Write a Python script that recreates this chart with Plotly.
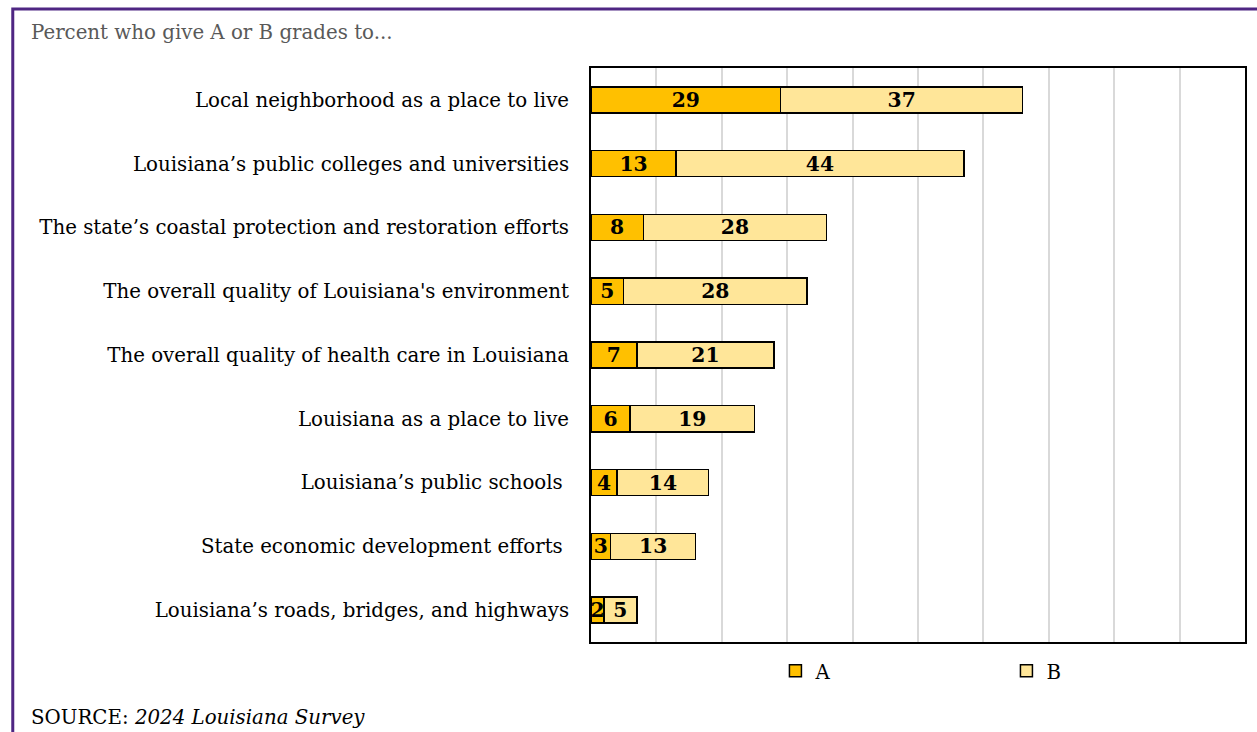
import plotly.graph_objects as go

categories = [
    "Local neighborhood as a place to live",
    "Louisiana\u2019s public colleges and universities",
    "The state\u2019s coastal protection and restoration efforts",
    "The overall quality of Louisiana's environment",
    "The overall quality of health care in Louisiana",
    "Louisiana as a place to live",
    "Louisiana\u2019s public schools\u00a0",
    "State economic development efforts\u00a0",
    "Louisiana\u2019s roads, bridges, and highways",
]
grade_a = [29, 13, 8, 5, 7, 6, 4, 3, 2]
grade_b = [37, 44, 28, 28, 21, 19, 14, 13, 5]

FONT = "DejaVu Serif"
FS = 19.8
W, H = 1257, 732
L, R, T, B = 591, 10, 68, 90
pw, ph = W - L - R, H - T - B


def px_x(x):
    return (x - L) / pw


def px_y(y):
    return (H - B - y) / ph


fig = go.Figure()
for name, vals, color in [("A", grade_a, "#FFC000"), ("B", grade_b, "#FFE699")]:
    fig.add_trace(go.Bar(
        name=name, y=categories, x=vals, orientation="h",
        marker=dict(color=color, line=dict(color="black", width=1.5)),
        text=vals, texttemplate="<b>%{x}</b>",
        textposition="inside", insidetextanchor="middle", textangle=0,
        textfont=dict(family=FONT, size=FS + 0.5, color="black"),
        hoverinfo="skip",
    ))

fig.update_layout(
    width=W, height=H,
    margin=dict(l=L, r=R, t=T, b=B),
    barmode="stack", bargap=0.59,
    plot_bgcolor="white", paper_bgcolor="white",
    font=dict(family=FONT, size=FS, color="black"),
    uniformtext=dict(minsize=FS + 0.5, mode="show"),
    legend=dict(orientation="h", x=px_x(776), xanchor="left", y=px_y(671), yanchor="middle",
                font=dict(family=FONT, size=FS, color="black"),
                entrywidth=186, itemwidth=30, traceorder="normal"),
    showlegend=True,
)
fig.update_xaxes(range=[0, 100], dtick=10, showticklabels=False, showgrid=True,
                 gridcolor="#D9D9D9", gridwidth=1.5, zeroline=False,
                 showline=True, mirror=True, linecolor="black", linewidth=2, ticks="")
fig.update_yaxes(categoryorder="array", categoryarray=categories, autorange="reversed",
                 showline=True, mirror=True, linecolor="black", linewidth=2,
                 showgrid=False, ticks="", ticklabelstandoff=16,
                 tickfont=dict(family=FONT, size=FS, color="black"))

# purple frame
fig.add_shape(type="rect", xref="paper", yref="paper",
              x0=px_x(11), x1=px_x(1300), y0=px_y(800), y1=px_y(9),
              line=dict(color="#4F2683", width=3), layer="above")

fig.add_annotation(text="Percent who give A or B grades to...", xref="paper", yref="paper",
                   x=px_x(27), y=px_y(33), xanchor="left", yanchor="middle", showarrow=False,
                   font=dict(family=FONT, size=FS, color="#595959"))
fig.add_annotation(text="SOURCE: <i>2024 Louisiana Survey</i>", xref="paper", yref="paper",
                   x=px_x(27), y=px_y(717), xanchor="left", yanchor="middle", showarrow=False,
                   font=dict(family=FONT, size=FS, color="black"))

fig.write_html("out.html")
